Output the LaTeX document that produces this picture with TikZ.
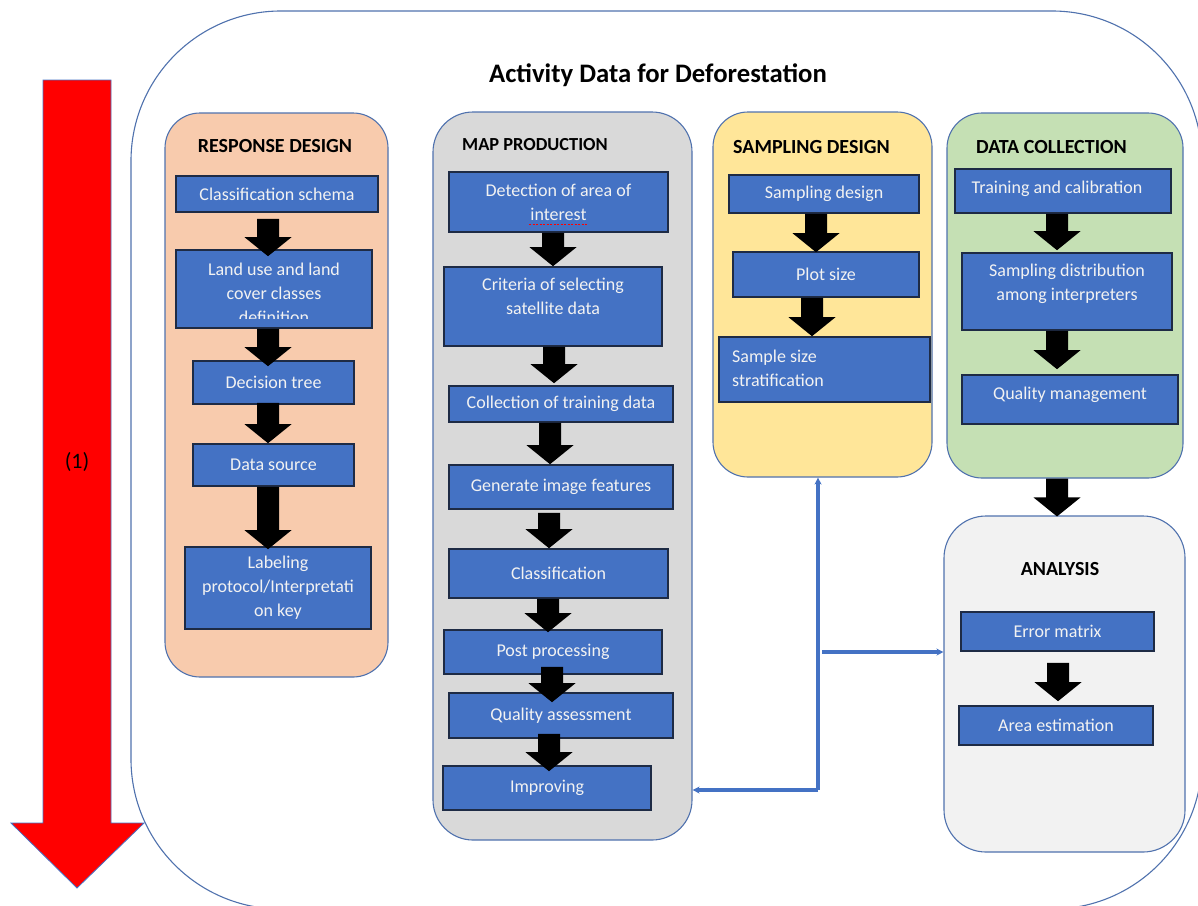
\documentclass[tikz,border=0pt]{standalone}
\usepackage{fontspec}
\setmainfont{Carlito}
\usetikzlibrary{calc,arrows.meta}

\definecolor{boxblue}{HTML}{4472C4}
\definecolor{boxedge}{HTML}{1E2B45}
\definecolor{paneledge}{HTML}{5072AE}
\definecolor{peach}{HTML}{F8CBAD}
\definecolor{greypanel}{HTML}{D9D9D9}
\definecolor{yellowpanel}{HTML}{FFE699}
\definecolor{greenpanel}{HTML}{C5E0B4}
\definecolor{lightpanel}{HTML}{F2F2F2}
\definecolor{boxtext}{HTML}{F2F2F2}
\definecolor{arrowred}{HTML}{FF0000}

\tikzset{
  panel/.style={draw=paneledge, line width=1.1pt, rounded corners=35pt, inner sep=0pt},
  pbox/.style={draw=boxedge, line width=1.6pt, fill=boxblue, text=boxtext,
    inner sep=0pt, align=center, font=\fontsize{18}{24}\selectfont},
  btext/.style={text=boxtext, align=center, inner sep=0pt, font=\fontsize{18}{24}\selectfont},
  headtext/.style={font=\bfseries\fontsize{20}{24}\selectfont, inner sep=0pt},
  link/.style={draw=boxblue, line width=3.5pt, -{Stealth[length=7pt,width=7pt]}},
  flowfill/.style={fill=black},
}

% block arrow from one box to the next:
% #1 from, #2 to, #3 centre x, #4 shaft start above #1.south, #5 tip depth into #2
\newcommand\flowarrow[5]{%
  \fill[flowfill] let \p1=(#1.south), \p2=(#2.north) in
    ({(#3-11)*1pt},{\y1+(#4)*1pt}) -- ({(#3+11)*1pt},{\y1+(#4)*1pt})
    -- ({(#3+11)*1pt},{\y2-(#5)*1pt+19pt}) -- ({(#3+23.5)*1pt},{\y2-(#5)*1pt+19pt})
    -- ({#3*1pt},{\y2-(#5)*1pt})
    -- ({(#3-23.5)*1pt},{\y2-(#5)*1pt+19pt}) -- ({(#3-11)*1pt},{\y2-(#5)*1pt+19pt})
    -- cycle;}

\begin{document}
\begin{tikzpicture}[x=1pt,y=-1pt]
\useasboundingbox (0,0) rectangle (1198,905);
\fill[white] (0,0) rectangle (1198,905);
\clip (0,0) rectangle (1198,905);

% outer frame
\node[draw=paneledge, line width=1.1pt, rounded corners=150pt, inner sep=0pt,
      minimum width=1071pt, minimum height=898pt] (outer) at (666.5,460) {};
\node[font=\bfseries\fontsize{26.7}{30}\selectfont, inner sep=0pt] (title) at (658,75)
  {Activity Data for Deforestation};

% timeline arrow
\filldraw[fill=arrowred, draw=boxblue, line width=0.8pt]
  (43,80) -- (111,80) -- (111,823) -- (144,823) -- (77,888) -- (11,823) -- (43,823) -- cycle;
\node[font=\fontsize{22}{26}\selectfont, inner sep=0pt] (step1) at (77,462) {(1)};

% panels
\node[panel, fill=peach, minimum width=223pt, minimum height=564pt] (resp) at (276.5,395) {};
\node[panel, fill=greypanel, rounded corners=40pt, minimum width=259pt, minimum height=728pt] (mapp) at (562.5,476) {};
\node[panel, fill=yellowpanel, minimum width=219pt, minimum height=365pt] (samp) at (822.5,294.5) {};
\node[panel, fill=greenpanel, minimum width=236pt, minimum height=365pt] (datac) at (1065,295.5) {};
\node[panel, fill=lightpanel, rounded corners=42pt, minimum width=241pt, minimum height=336pt] (anal) at (1064.5,684) {};

% panel headings
\node[headtext] (resp-h) at (275,146) {RESPONSE DESIGN};
\node[headtext, font=\bfseries\fontsize{18.4}{22}\selectfont, anchor=west] (mapp-h) at (462,145) {MAP PRODUCTION};
\node[headtext, anchor=west] (samp-h) at (733,147) {SAMPLING DESIGN};
\node[headtext, anchor=west] (datac-h) at (976,147) {DATA COLLECTION};
\node[headtext] (anal-h) at (1060,569) {ANALYSIS};

% response design
\node[pbox, minimum width=202pt, minimum height=36pt] (cs) at (277,194) {Classification schema};
\node[pbox, minimum width=196pt, minimum height=78pt] (lu) at (274,289) {};
\begin{scope}
  \clip (176,252) rectangle (372,318);
  \node[btext] (lu-t) at (274,293) {Land use and land\\cover classes\\definition};
\end{scope}
\node[pbox, minimum width=161pt, minimum height=43pt] (dt) at (273.5,382.5) {Decision tree};
\node[pbox, minimum width=161pt, minimum height=42pt] (ds) at (273.5,465) {Data source};
\node[pbox, minimum width=186pt, minimum height=82pt] (lp) at (278,588) {Labeling\\protocol/Interpretati\\on key};

% map production
\node[pbox, minimum width=219pt, minimum height=60pt] (det) at (558.5,202) {Detection of area of\\interest};
\draw[red, line width=1pt, dash pattern=on 2pt off 1.5pt] (529,224) -- (588,224);
\node[pbox, minimum width=218pt, minimum height=79pt] (crit) at (553,306.5) {};
\node[btext] (crit-t) at (553,296.5) {Criteria of selecting\\satellite data};
\node[pbox, minimum width=224pt, minimum height=36pt] (coll) at (561,404) {Collection of training data};
\node[pbox, minimum width=224pt, minimum height=44pt] (gen) at (561,487) {Generate image features};
\node[pbox, minimum width=219pt, minimum height=49pt] (cls) at (558.5,573.5) {Classification};
\node[pbox, minimum width=218pt, minimum height=44pt] (post) at (553,652) {Post processing};
\node[pbox, minimum width=224pt, minimum height=45pt] (qa) at (561,715.5) {Quality assessment};
\node[pbox, minimum width=208pt, minimum height=44pt] (imp) at (547,788) {Improving};

% sampling design
\node[pbox, minimum width=190pt, minimum height=38pt] (sd) at (824,194) {Sampling design};
\node[pbox, minimum width=186pt, minimum height=45pt] (ps) at (826,274.5) {Plot size};
\node[pbox, minimum width=211pt, minimum height=65pt] (ss) at (824.5,369.5) {};
\node[btext, align=left, anchor=west] (ss-t) at (732,368) {Sample size\\stratification};

% data collection
\node[pbox, minimum width=216pt, minimum height=44pt] (tc) at (1063,191) {};
\node[btext] (tc-t) at (1057,189) {Training and calibration};
\node[pbox, minimum width=210pt, minimum height=77pt] (sdi) at (1067,291.5) {};
\node[btext] (sdi-t) at (1067,284) {Sampling distribution\\among interpreters};
\node[pbox, minimum width=216pt, minimum height=49pt] (qm) at (1070,399.5) {};
\node[btext] (qm-t) at (1070,395) {Quality management};

% analysis
\node[pbox, minimum width=193pt, minimum height=39pt] (em) at (1057.5,631.5) {Error matrix};
\node[pbox, minimum width=194pt, minimum height=39pt] (ae) at (1056,725.5) {Area estimation};

% block arrows
\flowarrow{cs}{lu}{268}{-6}{7}
\flowarrow{lu}{dt}{268}{0}{6}
\flowarrow{dt}{ds}{268}{2}{0}
\flowarrow{ds}{lp}{268}{0}{3}
\flowarrow{det}{crit}{553}{0}{0}
\flowarrow{crit}{coll}{554}{0}{-2}
\flowarrow{coll}{gen}{550}{0}{0}
\flowarrow{gen}{cls}{549}{-3}{0}
\flowarrow{cls}{post}{548}{0}{3}
\flowarrow{post}{qa}{552}{8}{10}
\flowarrow{qa}{imp}{549}{5}{6}
\flowarrow{sd}{ps}{816}{0}{1}
\flowarrow{ps}{ss}{812}{0}{0}
\flowarrow{tc}{sdi}{1057}{0}{-2}
\flowarrow{sdi}{qm}{1057}{0}{-5}
\flowarrow{datac}{anal}{1057}{0}{1}
\flowarrow{em}{ae}{1058}{-11}{-4}

% feedback links
\coordinate (fork) at (818,790);
\coordinate (branch) at (822,652);
\draw[link] (fork) -- (fork |- samp.south);
\draw[link] (fork) -- (fork -| mapp.east);
\draw[link] (branch) -- (branch -| anal.west);
\end{tikzpicture}
\end{document}
